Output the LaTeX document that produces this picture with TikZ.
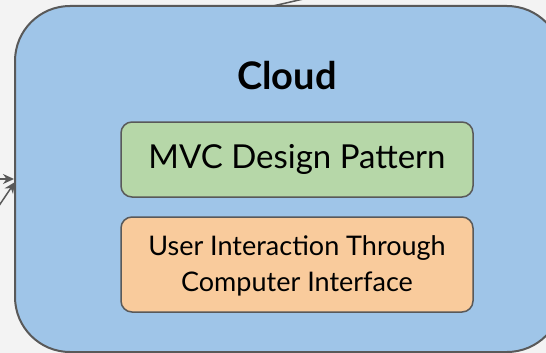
\documentclass[tikz,border=0pt]{standalone}
\usepackage{fontspec}
\setmainfont{Lato}
\usetikzlibrary{arrows.meta}
\definecolor{bgc}{HTML}{F3F3F3}
\definecolor{cloudc}{HTML}{9FC5E8}
\definecolor{greenc}{HTML}{B6D7A8}
\definecolor{orangec}{HTML}{F9CB9C}
\definecolor{edgec}{HTML}{595959}
\begin{document}
\begin{tikzpicture}[x=1pt,y=-1pt,
  inner/.style={draw=edgec,line width=1.5pt,rounded corners=11pt,minimum width=352pt,align=center,text=black,inner sep=0pt},
  conn/.style={draw=edgec,line width=1.5pt},
  arr/.style={conn,-{Stealth[length=11pt,width=10pt]}}]
\useasboundingbox (0,0) rectangle (546,353);
\fill[bgc] (0,0) rectangle (546,353);
\clip (0,0) rectangle (546,353);
\node[draw=edgec,line width=2pt,fill=cloudc,rounded corners=55pt,minimum width=547pt,minimum height=346pt,inner sep=0pt] (cloud) at (288.5,179) {};
\node[font=\bfseries\fontsize{38}{44}\selectfont] (title) at (287,76) {Cloud};
\node[inner,fill=greenc,minimum height=75pt,font=\fontsize{33}{40}\selectfont] (mvc) at (297,159.5) {MVC Design Pattern};
\node[inner,fill=orangec,minimum height=95pt] (ui) at (297,264.5) {};
\node[font=\fontsize{27}{36}\selectfont,align=center,inner sep=0pt] (uitext) at (297,266) {User Interaction Through\\Computer Interface};
\coordinate (s1) at (-20,179);
\coordinate (s2) at (-10,219);
\coordinate (e2) at (15,182);
\coordinate (t1) at (273,6);
\coordinate (t2) at (325,-6);
\draw[arr] (s1) -- (cloud.west);
\draw[arr] (s2) -- (e2);
\draw[conn] (t1) -- (t2);
\end{tikzpicture}
\end{document}
